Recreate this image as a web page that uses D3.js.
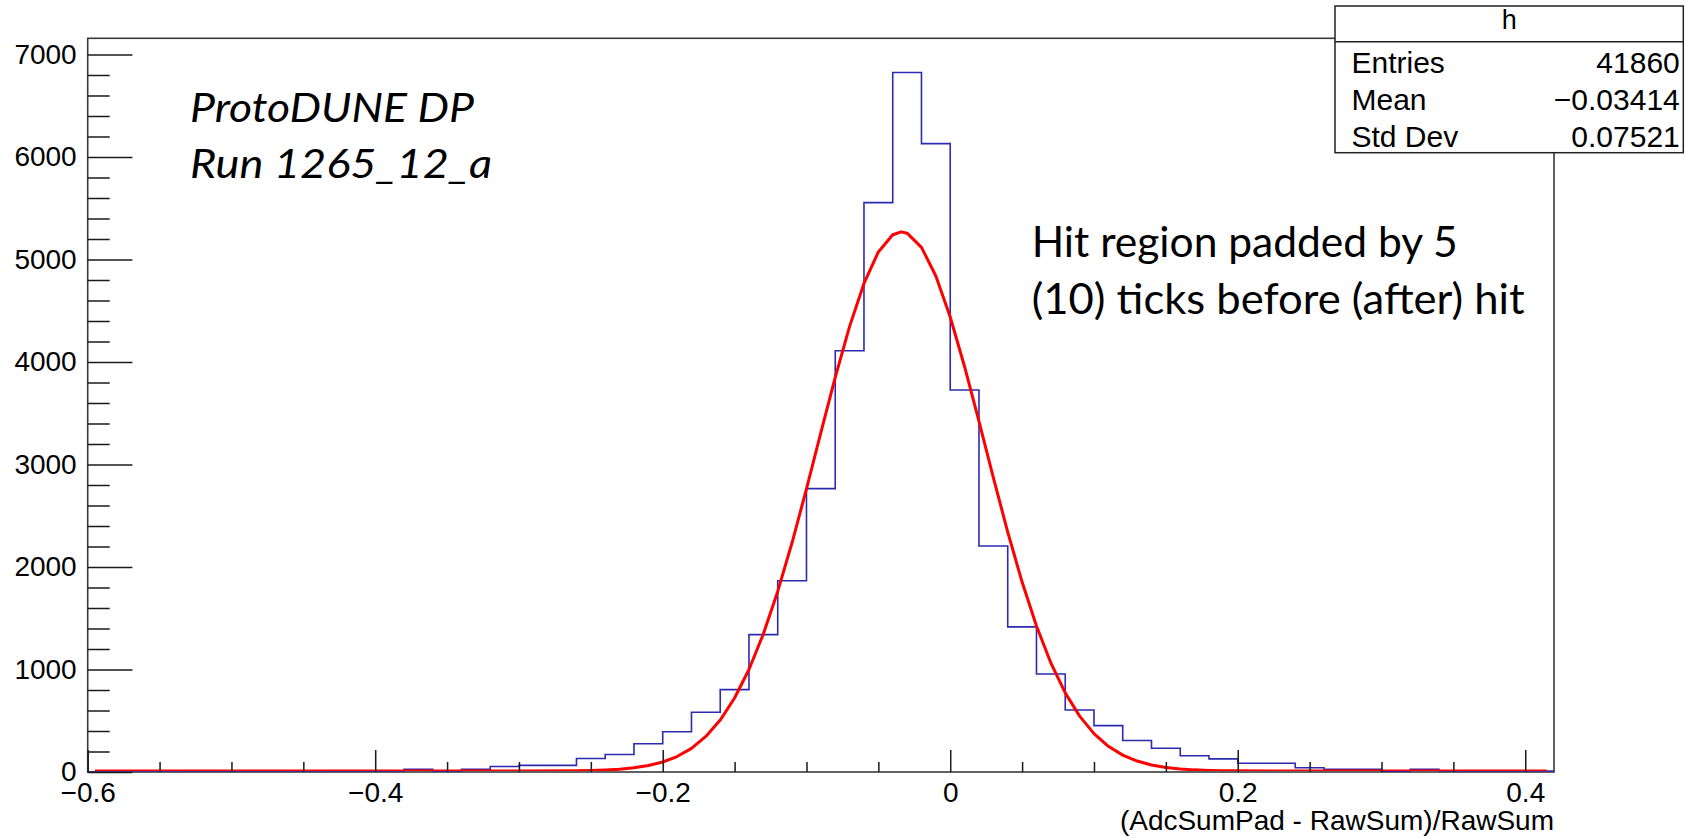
<!DOCTYPE html>
<html>
<head>
<meta charset="utf-8">
<script src="https://cdn.jsdelivr.net/npm/d3@7"></script>
<style>
  body { margin: 0; background: #fff; }
  svg { display: block; }
</style>
</head>
<body>
<div id="chart"></div>
<script>
"use strict";

var w = 1703;
var h = 838;

// histogram: lower edge of each bin (width 0.02) and its content
var binLow = [-0.60, -0.58, -0.56, -0.54, -0.52, -0.50, -0.48, -0.46, -0.44, -0.42,
  -0.40, -0.38, -0.36, -0.34, -0.32, -0.30, -0.28, -0.26, -0.24, -0.22,
  -0.20, -0.18, -0.16, -0.14, -0.12, -0.10, -0.08, -0.06, -0.04, -0.02,
  0.00, 0.02, 0.04, 0.06, 0.08, 0.10, 0.12, 0.14, 0.16, 0.18,
  0.20, 0.22, 0.24, 0.26, 0.28, 0.30, 0.32, 0.34, 0.36, 0.38, 0.40];
var counts = [0, 0, 0, 0, 0, 0, 0, 0, 0, 0,
  0, 26, 0, 26, 53, 65, 65, 132, 171, 275,
  393, 583, 804, 1340, 1866, 2765, 4110, 5555, 6825, 6130,
  3727, 2205, 1416, 956, 605, 452, 307, 232, 158, 128,
  85, 85, 42, 26, 26, 5, 26, 0, 0, 0, 10];
var xMax = 0.42;

// fitted gaussian, points
var fitX = [-0.595, -0.40, -0.30, -0.26, -0.25, -0.24, -0.23, -0.22, -0.21, -0.20, -0.19,
  -0.18, -0.17, -0.16, -0.15, -0.14, -0.13, -0.12, -0.11, -0.10, -0.09,
  -0.08, -0.07, -0.06, -0.05, -0.04, -0.034, -0.03, -0.02, -0.01, 0.00,
  0.01, 0.02, 0.03, 0.04, 0.05, 0.06, 0.07, 0.08, 0.09, 0.10,
  0.11, 0.12, 0.13, 0.14, 0.15, 0.16, 0.17, 0.18, 0.19, 0.20, 0.30, 0.415];
var fitY = [0, 0, 0, 3, 5, 10, 17, 31, 53, 88, 141,
  221, 337, 497, 712, 990, 1337, 1752, 2229, 2753, 3301,
  3840, 4338, 4757, 5064, 5232, 5260, 5247, 5109, 4829, 4429,
  3944, 3410, 2862, 2331, 1843, 1415, 1054, 762, 535, 365,
  241, 155, 97, 58, 34, 20, 11, 6, 3, 1.5, 0, 0];

var xMajor = [-0.6, -0.4, -0.2, 0, 0.2, 0.4];
var xMinor = [-0.55, -0.5, -0.45, -0.35, -0.3, -0.25, -0.15, -0.1, -0.05,
  0.05, 0.1, 0.15, 0.25, 0.3, 0.35];
var yMajor = [0, 1000, 2000, 3000, 4000, 5000, 6000, 7000];
var yMinor = [200, 400, 600, 800, 1200, 1400, 1600, 1800, 2200, 2400, 2600, 2800,
  3200, 3400, 3600, 3800, 4200, 4400, 4600, 4800, 5200, 5400, 5600, 5800,
  6200, 6400, 6600, 6800];

var statTitle = "h";
var statNames = ["Entries", "Mean", "Std Dev"];
var statValues = ["41860", "\u22120.03414", "0.07521"];

var xTitle = "(AdcSumPad - RawSum)/RawSum";
var leftNote = ["ProtoDUNE DP", "Run 1265_12_a"];
var rightNote = ["Hit region padded by 5", "(10) ticks before (after) hit"];

var rootFont = "'Liberation Sans', Arial, Helvetica, sans-serif";
var noteFont = "Lato, 'Open Sans', sans-serif";

var svg = d3.select("#chart")
  .append("svg")
  .attr("width", w)
  .attr("height", h)

var frame = { left: 87.7, right: 1554, top: 38.3, bottom: 772 };

var x = d3.scaleLinear()
  .domain([-0.6, xMax])
  .range([frame.left, frame.right]);
var y = d3.scaleLinear()
  .domain([0, 7158])
  .range([frame.bottom, frame.top]);

// frame
svg.append("rect")
  .attr("x", frame.left)
  .attr("y", frame.top)
  .attr("width", frame.right - frame.left)
  .attr("height", frame.bottom - frame.top)
  .attr("fill", "none")
  .attr("stroke", "#3a3a3a")
  .attr("stroke-width", 1.6);

svg.append("clipPath")
  .attr("id", "clip")
  .append("rect")
  .attr("x", frame.left)
  .attr("y", frame.top - 2)
  .attr("width", frame.right - frame.left)
  .attr("height", frame.bottom - frame.top + 2);

// histogram outline
var histPts = binLow.map(function(d, i) { return [d, counts[i]]; });
histPts.push([xMax, counts[counts.length - 1]]);

var histLine = d3.line()
  .x(function(d) { return x(d[0]); })
  .y(function(d) { return y(d[1]); })
  .curve(d3.curveStepAfter);

svg.append("path")
  .datum(histPts)
  .attr("clip-path", "url(#clip)")
  .attr("d", histLine)
  .attr("fill", "none")
  .attr("stroke", "#2b2bb0")
  .attr("stroke-width", 1.6);

// fit
var fitLine = d3.line()
  .x(function(d, i) { return x(d); })
  .y(function(d, i) { return y(fitY[i]); });

svg.append("path")
  .datum(fitX)
  .attr("clip-path", "url(#clip)")
  .attr("d", fitLine)
  .attr("fill", "none")
  .attr("stroke", "#ff0000")
  .attr("stroke-width", 3)
  .attr("stroke-linejoin", "round")
  .attr("transform", "translate(0,-1)");

// axes
function fmtX(d) {
  if (d === 0) return "0";
  return d3.format(".1f")(d);
}

function styleAxis(g) {
  g.select(".domain").remove();
  g.attr("font-family", rootFont)
    .attr("font-size", 28)
    .attr("color", "#1a1a1a");
  g.selectAll("line").attr("stroke-width", 1.5);
  g.selectAll("text").attr("fill", "#000");
}

svg.append("g")
  .attr("transform", "translate(0," + frame.bottom + ")")
  .call(d3.axisBottom(x).tickValues(xMinor).tickSize(-10).tickFormat(""))
  .call(styleAxis);

svg.append("g")
  .attr("transform", "translate(0," + frame.bottom + ")")
  .call(d3.axisBottom(x).tickValues(xMajor).tickSize(-22).tickPadding(10).tickFormat(fmtX))
  .call(styleAxis);

svg.append("g")
  .attr("transform", "translate(" + frame.left + ",0)")
  .call(d3.axisLeft(y).tickValues(yMinor).tickSize(-22).tickFormat(""))
  .call(styleAxis);

svg.append("g")
  .attr("transform", "translate(" + frame.left + ",0)")
  .call(d3.axisLeft(y).tickValues(yMajor).tickSize(-44.7).tickPadding(11).tickFormat(d3.format("d")))
  .call(styleAxis);

svg.append("text")
  .attr("x", frame.right)
  .attr("y", 830)
  .attr("text-anchor", "end")
  .attr("font-family", rootFont)
  .attr("font-size", 28)
  .text(xTitle);

// stats box
var box = { left: 1335, right: 1683.3, top: 6, bottom: 152.7, split: 41.7 };
var stats = svg.append("g");
stats.append("rect")
  .attr("x", box.left)
  .attr("y", box.top)
  .attr("width", box.right - box.left)
  .attr("height", box.bottom - box.top)
  .attr("fill", "#fff")
  .attr("stroke", "#222")
  .attr("stroke-width", 1.5);
stats.append("line")
  .attr("x1", box.left)
  .attr("x2", box.right)
  .attr("y1", box.split)
  .attr("y2", box.split)
  .attr("stroke", "#222")
  .attr("stroke-width", 1.5);
stats.append("text")
  .attr("x", (box.left + box.right) / 2)
  .attr("y", 28.5)
  .attr("text-anchor", "middle")
  .attr("font-family", rootFont)
  .attr("font-size", 27)
  .text(statTitle);

var rowBase = [72.7, 109.8, 146.5];
statNames.forEach(function(name, i) {
  stats.append("text")
    .attr("x", box.left + 16.5)
    .attr("y", rowBase[i])
    .attr("font-family", rootFont)
    .attr("font-size", 30)
    .text(name);
  stats.append("text")
    .attr("x", box.right - 3.5)
    .attr("y", rowBase[i])
    .attr("text-anchor", "end")
    .attr("font-family", rootFont)
    .attr("font-size", 30)
    .text(statValues[i]);
});

// annotations
function note(lines, x0, bases, size, widths, italic) {
  lines.forEach(function(t, i) {
    svg.append("text")
      .attr("x", x0)
      .attr("y", bases[i])
      .attr("font-family", noteFont)
      .attr("font-style", italic ? "italic" : "normal")
      .attr("font-size", size)
      .attr("textLength", widths[i])
      .attr("lengthAdjust", "spacingAndGlyphs")
      .text(t);
  });
}

note(leftNote, 190, [121.7, 178.3], 40, [284, 302], true);
note(rightNote, 1031.7, [256.7, 313.5], 42, [426, 493], false);
</script>
</body>
</html>
